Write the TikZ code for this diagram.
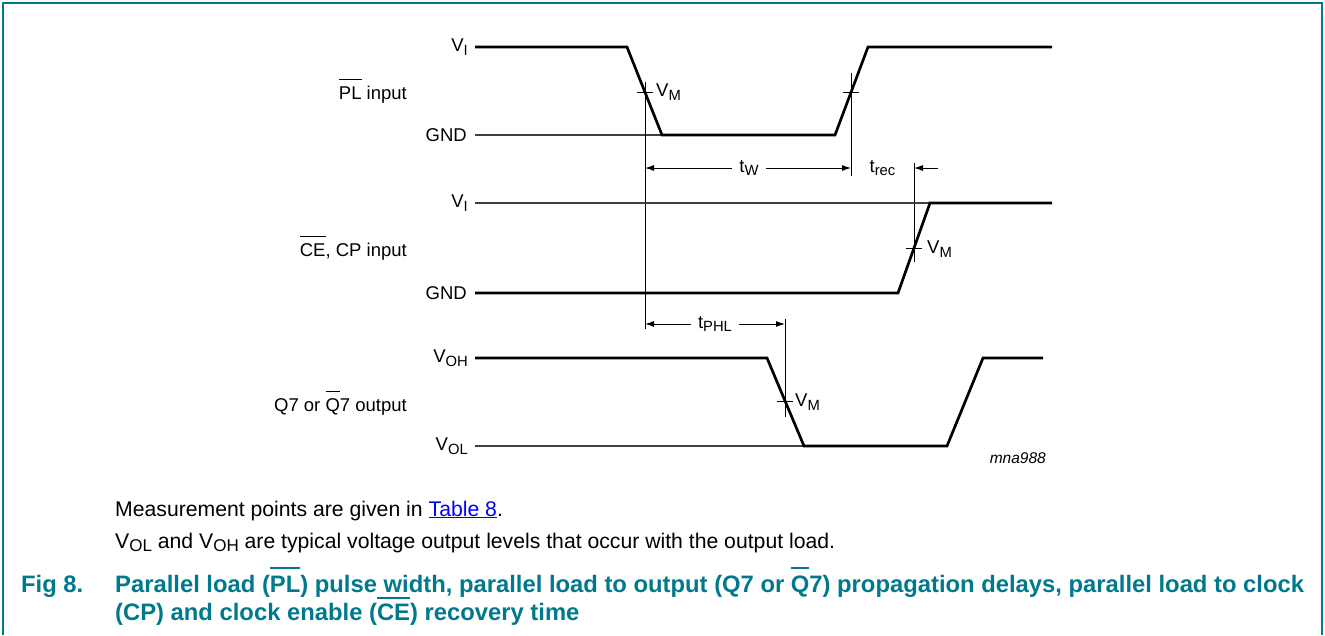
\documentclass[tikz,border=0pt]{standalone}
\usepackage{fontspec}
\setmainfont{Liberation Sans}
\usetikzlibrary{arrows.meta}
\definecolor{nxpteal}{RGB}{0,121,140}
\definecolor{linkblue}{RGB}{0,0,255}
\newsavebox\ovbox
\newcommand\ovlat[3]{\sbox\ovbox{#3}\rlap{\rule[#1]{\wd\ovbox}{#2}}\usebox\ovbox}
\newcommand\dsub[1]{\raisebox{-3.5pt}{\fontsize{14.8}{14.8}\selectfont #1}}
\newcommand\csub[1]{\raisebox{-3.5pt}{\fontsize{17}{17}\selectfont #1}}
\begin{document}
\begin{tikzpicture}[x=1pt,y=-1pt,
  wave/.style={line width=2.7pt, line join=miter},
  reflvl/.style={line width=1.2pt, black!75},
  guide/.style={line width=1pt, black},
  vmtick/.style={line width=1pt, black},
  dimarrow/.style={line width=1pt, -{Latex[length=9pt,width=6pt]}},
  lbl/.style={font=\fontsize{18.5}{20}\selectfont, inner sep=0pt},
  dimlbl/.style={font=\fontsize{18.5}{20}\selectfont, inner xsep=7pt, inner ysep=0pt, anchor=base},
  captxt/.style={font=\fontsize{21.2}{24}\selectfont, inner sep=0pt, anchor=base west},
  titletxt/.style={font=\fontsize{23.8}{26}\selectfont\bfseries, text=nxpteal, inner sep=0pt, anchor=base west},
]
\useasboundingbox (0,0) rectangle (1325,635);
\draw[nxpteal, line width=2pt] (2.5,635) -- (2.5,2.5) -- (1322,2.5) -- (1322,635);

% ---------- PL input ----------
\draw[reflvl] (475,135) -- (662,135);
\draw[wave] (475,47) -- (627,47) -- (662,135) -- (835,135) -- (868,47) -- (1052,47);
\node[lbl, anchor=east] (plvi) at (468,47) {V\dsub{I}};
\node[lbl, anchor=east] (plgnd) at (467,135) {GND};
\node[lbl, anchor=east] (plname) at (407,91) {\ovlat{19.5pt}{1.1pt}{PL} input};
\draw[vmtick] (637,92) -- (653,92);
\draw[vmtick] (843,92) -- (859,92);
\node[lbl, anchor=west] (plvm) at (656,92) {V\dsub{M}};

% ---------- guide lines ----------
\coordinate (g1t) at (645,82);
\coordinate (g1b) at (645,329);
\coordinate (g2t) at (851,73);
\coordinate (g2b) at (851,176);
\coordinate (g3t) at (914,163);
\coordinate (g3b) at (914,262);
\coordinate (g4t) at (785,319);
\coordinate (g4b) at (785,417);
\draw[guide] (g1t) -- (g1b);
\draw[guide] (g2t) -- (g2b);
\draw[guide] (g3t) -- (g3b);
\draw[guide] (g4t) -- (g4b);

% ---------- tW ----------
\coordinate (twL) at (645,168);
\coordinate (twR) at (851,168);
\node[dimlbl] (tw) at (749,172) {t\dsub{W}};
\draw[dimarrow] (tw.west |- twL) -- (twL);
\draw[dimarrow] (tw.east |- twR) -- (twR);

% ---------- trec ----------
\node[dimlbl] (trec) at (882.5,172) {t\dsub{rec}};
\coordinate (trecS) at (938,168);
\coordinate (trecE) at (914,168);
\draw[dimarrow] (trecS) -- (trecE);

% ---------- CE, CP input ----------
\draw[reflvl] (475,203) -- (930,203);
\draw[wave] (475,293) -- (898,293) -- (930,203) -- (1052,203);
\node[lbl, anchor=east] (cevi) at (468,203) {V\dsub{I}};
\node[lbl, anchor=east] (cegnd) at (467,293) {GND};
\node[lbl, anchor=east] (cename) at (407,248) {\ovlat{19.5pt}{1.1pt}{CE}, CP input};
\draw[vmtick] (906,248) -- (922,248);
\node[lbl, anchor=west] (cevm) at (927,249) {V\dsub{M}};

% ---------- tPHL ----------
\coordinate (tpL) at (645,324);
\coordinate (tpR) at (785,324);
\node[dimlbl] (tphl) at (715,328) {t\dsub{PHL}};
\draw[dimarrow] (tphl.west |- tpL) -- (tpL);
\draw[dimarrow] (tphl.east |- tpR) -- (tpR);

% ---------- Q7 output ----------
\draw[reflvl] (475,446) -- (804,446);
\draw[wave] (475,358) -- (767,358) -- (804,446) -- (947,446) -- (983,358) -- (1043,358);
\node[lbl, anchor=east] (qvoh) at (468,358) {V\dsub{OH}};
\node[lbl, anchor=east] (qvol) at (468,446) {V\dsub{OL}};
\node[lbl, anchor=east] (qname) at (407,403) {Q7 or \ovlat{19.5pt}{1.1pt}{Q}7 output};
\draw[vmtick] (777,401) -- (793,401);
\node[lbl, anchor=west] (qvm) at (795,402) {V\dsub{M}};

\node[lbl, anchor=east, font=\fontsize{15.5}{17}\selectfont\itshape] (tag) at (1046,458) {mna988};

% ---------- caption ----------
\node[captxt] (note1) at (115,516) {Measurement points are given in \textcolor{linkblue}{\underline{Table 8}}.};
\node[captxt] (note2) at (115,548) {V\csub{OL} and V\csub{OH} are typical voltage output levels that occur with the output load.};
\node[titletxt] (fignum) at (21,592) {Fig 8.};
\node[titletxt] (title1) at (115,592) {Parallel load (\ovlat{23pt}{2.2pt}{PL}) pulse width, parallel load to output (Q7 or \ovlat{23pt}{2.2pt}{Q}7) propagation delays, parallel load to clock};
\node[titletxt] (title2) at (115,620) {(CP) and clock enable (\ovlat{21pt}{2.2pt}{CE}) recovery time};
\end{tikzpicture}
\end{document}
